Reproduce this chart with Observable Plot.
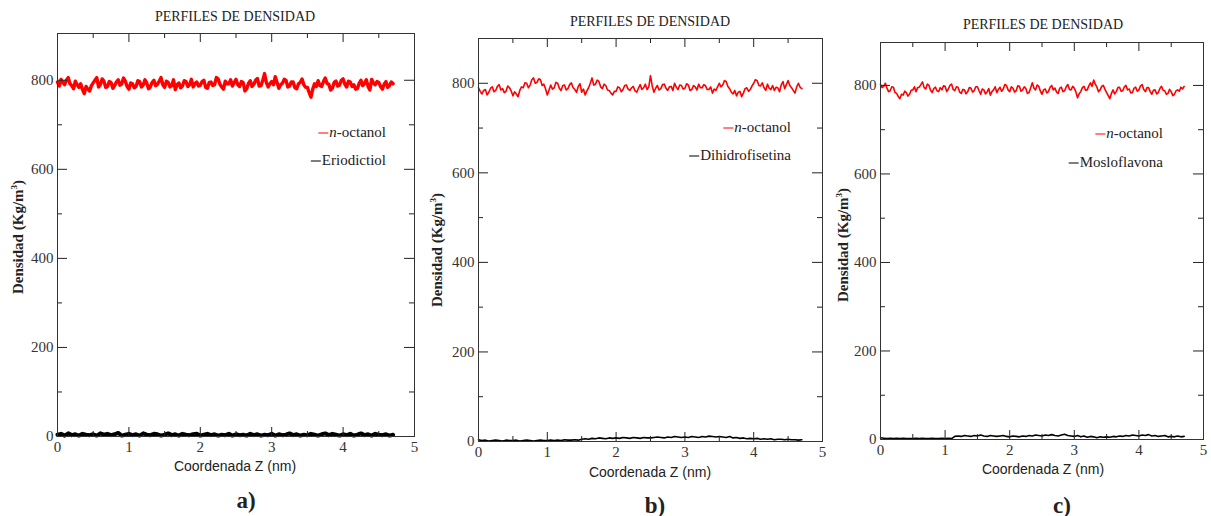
<!DOCTYPE html>
<html><head><meta charset="utf-8">
<script src="https://cdn.jsdelivr.net/npm/d3@7"></script>
<script src="https://cdn.jsdelivr.net/npm/@observablehq/plot@0.6"></script>
<style>
body{margin:0;background:#fff;}
#root{position:relative;width:1211px;height:516px;overflow:hidden;background:#fff;font-family:"Liberation Serif","Times New Roman",serif;color:#222;}
.svgbox{position:absolute;top:0;}
.lbl{position:absolute;white-space:nowrap;line-height:1;transform:translate(-50%,-50%);}
.title{font-size:14px;}
.xlab{font-family:"Liberation Sans",Arial,sans-serif;font-size:14px;}
.ylab{font-weight:bold;font-size:15px;transform:translate(-50%,-50%) rotate(-90deg);}
.letter{font-weight:bold;font-size:23px;}
.leg{position:absolute;white-space:nowrap;line-height:1;font-size:15px;transform:translate(-100%,-50%);font-family:"Liberation Serif","Times New Roman",serif;}
.leg .d{display:inline-block;width:10px;height:1.6px;vertical-align:middle;margin-right:1px;}
</style></head>
<body><div id="root"></div>
<script>
// ---- data ----
const xTicks = [0, 1, 2, 3, 4, 5];
const xMinor = [0.5, 1.5, 2.5, 3.5, 4.5];
const yTicks = [0, 200, 400, 600, 800];
const yMinor = [100, 300, 500, 700];
const titleText = "PERFILES DE DENSIDAD";
const xLabel = "Coordenada Z (nm)";
const yLabel = "Densidad (Kg/m³)";
const solventName = "-octanol";
const soluteNames = ["Eriodictiol", "Dihidrofisetina", "Mosloflavona"];
const panelLetters = ["a)", "b)", "c)"];

// sampling positions (nm): fine grid for n-octanol, coarse grid for solutes
const zFine = d3.range(0, 4.7001, 0.025).map(v => +v.toFixed(3));
const zCoarse = d3.range(0, 4.7001, 0.05).map(v => +v.toFixed(2));

const octanolA = [
 796,787,802,795,790,800,806,792,788,781,798,790,784,792,779,770,786,780,776,788,
 794,800,806,785,790,803,798,784,786,797,795,782,788,796,801,789,792,805,798,786,
 780,794,792,783,786,799,797,785,789,801,794,781,785,795,800,788,791,798,806,790,
 784,798,795,785,788,801,779,790,794,783,787,799,797,786,790,802,785,792,796,787,
 789,797,800,784,782,795,796,788,790,806,803,791,785,780,798,792,792,801,787,795,
 802,790,786,797,795,776,781,793,799,786,791,800,804,787,788,800,815,795,785,792,
 797,790,808,795,782,790,793,802,800,785,787,796,796,783,781,792,795,803,790,784,
 784,772,762,780,792,786,799,788,786,797,805,793,791,778,782,795,798,787,789,800,
 803,791,785,798,796,786,790,780,781,793,800,788,793,801,786,778,802,794,790,797,
 795,786,780,791,797,784,788,796,792];
const soluteA = [
 4,6,2,7,3,5,2,6,4,3, 5,2,7,4,6,3,5,8,2,4, 6,3,5,2,7,4,3,6,5,2,
 4,7,3,5,2,6,4,3,5,6, 2,4,6,3,5,2,4,3,6,2, 5,3,4,2,6,3,5,2,4,3,
 6,2,5,3,4,7,3,5,2,4, 3,6,4,2,5,7,3,6,4,2, 5,3,6,2,4,7,3,5,2,6,
 4,3,5,2,4];

const octanolB = [
 790,782,776,784,786,774,780,789,792,781,784,793,797,785,788,779,782,794,790,783,
 772,781,776,770,784,792,790,801,800,790,796,808,812,800,802,810,808,795,798,787,
 774,785,796,787,790,802,800,789,784,795,796,785,788,797,801,790,786,780,793,799,
 780,787,774,783,790,800,812,796,798,807,804,792,788,798,795,785,784,778,774,782,
 782,792,790,781,786,795,796,787,784,790,793,783,780,789,797,786,790,798,786,792,
 817,794,780,789,795,785,788,797,798,789,784,792,793,784,800,791,786,796,795,787,
 789,799,796,784,786,795,792,785,798,790,790,797,794,786,786,792,778,787,784,792,
 800,792,796,806,804,793,788,780,776,784,772,780,782,770,778,788,790,782,786,794,
 800,808,806,795,794,801,790,784,798,789,786,795,784,791,790,781,796,804,788,797,
 806,795,790,784,778,792,800,791,788];
const soluteB = [
 4,2,3,1,2,3,2,1,3,2, 2,3,1,2,3,2,1,2,3,2, 2,3,2,3,2,4,3,3,4,3,
 5,6,5,7,6,8,7,6,8,7, 8,7,9,8,7,9,8,7,9,8, 8,9,10,9,8,10,9,11,10,9,
 10,9,11,10,9,11,10,12,11,10, 11,10,9,11,8,9,7,8,6,7, 6,7,5,6,5,6,4,5,5,4,
 5,4,4,3,4];

const octanolC = [
 802,795,798,805,794,786,788,797,796,784,782,775,770,780,778,787,784,776,780,789,
 790,797,786,795,796,802,808,795,792,803,800,789,784,793,796,788,786,795,790,799,
 798,786,792,800,803,791,788,797,796,785,782,791,790,781,786,795,794,785,788,797,
 797,788,780,792,790,781,785,793,778,786,790,797,784,791,796,787,792,802,800,790,
 786,797,794,785,788,799,798,787,790,797,793,782,784,795,806,794,790,801,798,787,
 780,790,792,783,786,796,800,790,794,785,782,794,796,786,788,797,802,791,790,798,
 794,785,772,781,786,795,798,789,790,799,806,798,812,803,796,786,790,798,800,791,
 784,777,770,782,790,781,786,795,796,787,788,797,800,790,792,783,784,794,796,787,
 790,799,802,791,786,795,795,786,780,789,790,781,784,793,798,789,788,780,782,791,
 786,777,780,788,790,787,796,792,798];
const soluteC = [
 4,3,2,3,2,3,2,3,2,2, 2,3,2,3,2,2,3,2,2,3, 2,3,2,7,8,7,9,8,7,9,
 8,10,8,7,9,8,7,8,9,7, 6,8,7,6,8,7,9,8,10,9, 8,10,9,11,9,8,10,12,9,8,
 7,9,6,8,5,7,6,4,6,5, 6,5,7,6,8,7,9,8,10,9, 8,10,9,11,8,9,7,8,9,6,
 7,6,8,6,7];

// ---- layout ----
const root = document.getElementById("root");
const serif = "Liberation Serif";
const panels = [
  {left:0,   width:420, height:470, mt:33, mb:34, ml:57, mr:6, ymax:905, red:octanolA, black:soluteA, rw:3.4, bw:4,
   title:[235,17], ylab:[18,237], xlab:[235,466], letter:[246,500], leg:[386,132,160]},
  {left:420, width:410, height:470, mt:38, mb:29, ml:58, mr:8, ymax:900, red:octanolB, black:soluteB, rw:1.6, bw:1.6,
   title:[650,22], ylab:[437,250], xlab:[650,472], letter:[655,505], leg:[791,127,155]},
  {left:830, width:381, height:470, mt:42, mb:31, ml:50, mr:8, ymax:897, red:octanolC, black:soluteC, rw:1.6, bw:1.6,
   title:[1043,25], ylab:[843,245], xlab:[1043,469], letter:[1062,505], leg:[1163,133,162]}
];

function addLabel(cls, html, [x, y]) {
  const d = document.createElement("div");
  d.className = "lbl " + cls;
  d.innerHTML = html;
  d.style.left = x + "px"; d.style.top = y + "px";
  root.appendChild(d);
}

panels.forEach((P, i) => {
  const ph = P.height - P.mt - P.mb, pw = P.width - P.ml - P.mr;
  const octanol = zFine.map((z, k) => ({z, d: P.red[k]}));
  const solute = zCoarse.map((z, k) => ({z, d: P.black[k]}));
  const tk = "#222";
  const svg = Plot.plot({
    width: P.width, height: P.height,
    marginTop: P.mt, marginBottom: P.mb, marginLeft: P.ml, marginRight: P.mr,
    x: {domain: [0, 5]},
    y: {domain: [0, P.ymax]},
    style: "font-family: 'Liberation Serif', serif; font-size: 14px; color: #222; background: transparent;",
    marks: [
      Plot.line(solute, {x: "z", y: "d", stroke: "#000", strokeWidth: P.bw}),
      Plot.line(octanol, {x: "z", y: "d", stroke: "#f00", strokeWidth: P.rw}),
      Plot.tickX(xTicks, {x: d => d, insetTop: ph - 9, stroke: tk}),
      Plot.tickX(xTicks, {x: d => d, insetBottom: ph - 9, stroke: tk}),
      Plot.tickX(xMinor, {x: d => d, insetTop: ph - 5, stroke: tk}),
      Plot.tickX(xMinor, {x: d => d, insetBottom: ph - 5, stroke: tk}),
      Plot.tickY(yTicks, {y: d => d, insetRight: pw - 10, stroke: tk}),
      Plot.tickY(yTicks, {y: d => d, insetLeft: pw - 10, stroke: tk}),
      Plot.tickY(yMinor, {y: d => d, insetRight: pw - 5, stroke: tk}),
      Plot.tickY(yMinor, {y: d => d, insetLeft: pw - 5, stroke: tk}),
      Plot.frame({stroke: "#333"}),
      Plot.axisX(xTicks, {tickSize: 0, tickPadding: 5, label: null, fontSize: 15, fontFamily: serif, fill: "#333"}),
      Plot.axisY(yTicks, {tickSize: 0, tickPadding: 4, label: null, fontSize: 15, fontFamily: serif, fill: "#333"})
    ]
  });
  const box = document.createElement("div");
  box.className = "svgbox";
  box.style.left = P.left + "px";
  box.appendChild(svg);
  root.appendChild(box);

  addLabel("title", titleText, P.title);
  addLabel("xlab", xLabel, P.xlab);
  addLabel("ylab", yLabel.replace("³", "<sup style='font-size:9px'>3</sup>"), P.ylab);
  addLabel("letter", panelLetters[i], P.letter);

  const l1 = document.createElement("div");
  l1.className = "leg";
  l1.style.left = P.leg[0] + "px"; l1.style.top = P.leg[1] + "px";
  l1.innerHTML = "<span class='d' style='background:#f00'></span><i>n</i>" + solventName;
  root.appendChild(l1);
  const l2 = document.createElement("div");
  l2.className = "leg";
  l2.style.left = P.leg[0] + "px"; l2.style.top = P.leg[2] + "px";
  l2.innerHTML = "<span class='d' style='background:#000'></span>" + soluteNames[i];
  root.appendChild(l2);
});
</script>
</body></html>
